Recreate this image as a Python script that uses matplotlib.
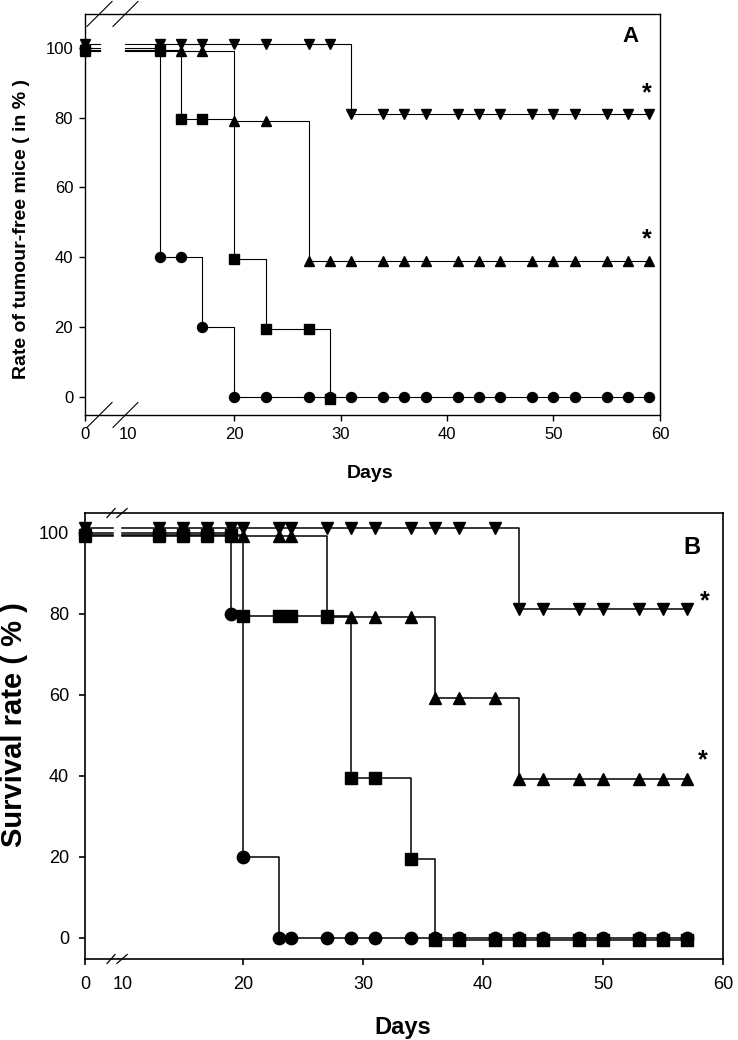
"""Tumour-free rate (A) and survival rate (B) step curves with a broken day axis."""

import numpy as np
import matplotlib

matplotlib.use("Agg")
import matplotlib.pyplot as plt

plt.rcParams["font.family"] = ["Liberation Sans", "DejaVu Sans"]

# Panel A: rate of tumour-free mice (%)
A_DAYS = [0, 13, 15, 17, 20, 23, 27, 29, 31, 34, 36, 38, 41, 43, 45, 48, 50, 52, 55, 57, 59]
A_CIRCLE = [100, 40, 40, 20, 0, 0, 0, 0, 0, 0, 0, 0, 0, 0, 0, 0, 0, 0, 0, 0, 0]
A_SQUARE_DAYS = [0, 13, 15, 17, 20, 23, 27, 29]
A_SQUARE = [100, 100, 80, 80, 40, 20, 20, 0]
A_UP = [100, 100, 100, 100, 80, 80, 40, 40, 40, 40, 40, 40, 40, 40, 40, 40, 40, 40, 40, 40, 40]
A_DOWN = [100, 100, 100, 100, 100, 100, 100, 100, 80, 80, 80, 80, 80, 80, 80, 80, 80, 80, 80, 80, 80]

# Panel B: survival rate (%)
B_DAYS = [0, 13, 15, 17, 19, 20, 23, 24, 27, 29, 31, 34, 36, 38, 41, 43, 45, 48, 50, 53, 55, 57]
B_CIRCLE = [100, 100, 100, 100, 80, 20, 0, 0, 0, 0, 0, 0, 0, 0, 0, 0, 0, 0, 0, 0, 0, 0]
B_SQUARE = [100, 100, 100, 100, 100, 80, 80, 80, 80, 40, 40, 20, 0, 0, 0, 0, 0, 0, 0, 0, 0, 0]
B_UP = [100, 100, 100, 100, 100, 100, 100, 100, 80, 80, 80, 80, 60, 60, 60, 40, 40, 40, 40, 40, 40, 40]
B_DOWN = [100, 100, 100, 100, 100, 100, 100, 100, 100, 100, 100, 100, 100, 100, 100, 80, 80, 80, 80, 80, 80, 80]

X_TICKS = [0, 10, 20, 30, 40, 50, 60]
Y_TICKS = [0, 20, 40, 60, 80, 100]


def broken_scale(ratio):
    # days 0-10 are squeezed by `ratio`, the rest is linear
    def forward(x):
        x = np.asarray(x, dtype=float)
        return np.where(x < 10, x * ratio, 10 * ratio + (x - 10))

    def inverse(u):
        u = np.asarray(u, dtype=float)
        return np.where(u < 10 * ratio, u / ratio, u - 10 * ratio + 10)

    return forward, inverse


def draw_curve(ax, days, rates, gap, marker, ms, nudge, zorder, lw):
    rates = np.asarray(rates, dtype=float) + nudge
    xs = [days[0], gap[0], np.nan, gap[1]] + list(days[1:])
    ys = [rates[0], rates[0], np.nan, rates[0]] + list(rates[1:])
    ax.plot(xs, ys, color="black", lw=lw, drawstyle="steps-post", zorder=2)
    ax.plot(days, rates, linestyle="none", marker=marker, ms=ms,
            color="black", zorder=zorder, clip_on=False)


def style_panel(ax, ratio, ylim, tick_size, pad_x, pad_y, spine_lw):
    ax.set_xscale("function", functions=broken_scale(ratio))
    ax.set_xlim(0, 60)
    ax.set_ylim(*ylim)
    ax.set_xticks(X_TICKS)
    ax.set_yticks(Y_TICKS)
    ax.tick_params(axis="both", direction="out", length=4.5, width=spine_lw,
                   labelsize=tick_size, top=False, right=False)
    ax.tick_params(axis="x", pad=pad_x)
    ax.tick_params(axis="y", pad=pad_y)
    ax.xaxis.get_major_ticks()[1].tick1line.set_visible(False)
    for spine in ax.spines.values():
        spine.set_linewidth(spine_lw)


def slashes(ax, xs, half_h, lw):
    for y in (0, 1):
        for x0, x1 in xs:
            ax.plot([x0, x1], [y - half_h, y + half_h], color="black", lw=lw,
                    transform=ax.transAxes, clip_on=False, zorder=6)


fig = plt.figure(figsize=(7.38, 10.4), dpi=100)

# ---- Panel A
ax_a = fig.add_axes([0.1152, 0.601, 0.779, 0.3856])
gap_a = (3.5, 9.4)
for days, rates, marker, ms, nudge, z in (
    (A_DAYS, A_DOWN, "v", 7.5, 1.0, 3),
    (A_DAYS, A_UP, "^", 7.5, -1.0, 3),
    (A_SQUARE_DAYS, A_SQUARE, "s", 6.7, -0.5, 4),
    (A_DAYS, A_CIRCLE, "o", 7.2, 0.0, 5),
):
    draw_curve(ax_a, days, rates, gap_a, marker, ms, nudge, z, 0.8)
style_panel(ax_a, 0.4, (-5.2, 109.7), 12, 4.5, 4, 1.0)
slashes(ax_a, [(0.0035, 0.047), (0.0487, 0.092)], 0.031, 0.8)
ax_a.set_xlabel("Days", fontsize=14, fontweight="bold")
ax_a.set_ylabel("Rate of tumour-free mice ( in % )", fontsize=14, fontweight="bold")
ax_a.xaxis.set_label_coords(0.496, -0.125)
ax_a.yaxis.set_label_coords(-0.095, 0.464)
ax_a.text(57.2, 103.2, "A", fontsize=16, fontweight="bold", ha="center", va="center")
ax_a.text(58.8, 87, "*", fontsize=18, fontweight="bold", ha="center", va="center")
ax_a.text(58.8, 45, "*", fontsize=18, fontweight="bold", ha="center", va="center")

# ---- Panel B
ax_b = fig.add_axes([0.1152, 0.0779, 0.8645, 0.4288])
gap_b = (7.4, 9.7)
for rates, marker, ms, nudge, z in (
    (B_DOWN, "v", 8.5, 1.2, 3),
    (B_UP, "^", 8.5, -0.8, 3),
    (B_CIRCLE, "o", 8.9, 0.0, 4),
    (B_SQUARE, "s", 8.3, -0.5, 5),
):
    draw_curve(ax_b, B_DAYS, rates, gap_b, marker, ms, nudge, z, 1.1)
style_panel(ax_b, 0.317, (-5.2, 104.9), 13, 7.5, 7, 1.2)
slashes(ax_b, [(0.0345, 0.047), (0.050, 0.066)], 0.010, 0.9)
ax_b.set_xlabel("Days", fontsize=17, fontweight="bold")
ax_b.set_ylabel("Survival rate ( % )", fontsize=21, fontweight="bold")
ax_b.xaxis.set_label_coords(0.498, -0.128)
ax_b.yaxis.set_label_coords(-0.089, 0.525)
ax_b.text(57.4, 96.5, "B", fontsize=17, fontweight="bold", ha="center", va="center")
ax_b.text(58.5, 83.2, "*", fontsize=18, fontweight="bold", ha="center", va="center")
ax_b.text(58.3, 43.9, "*", fontsize=18, fontweight="bold", ha="center", va="center")

fig.savefig("out.png", dpi=100)
